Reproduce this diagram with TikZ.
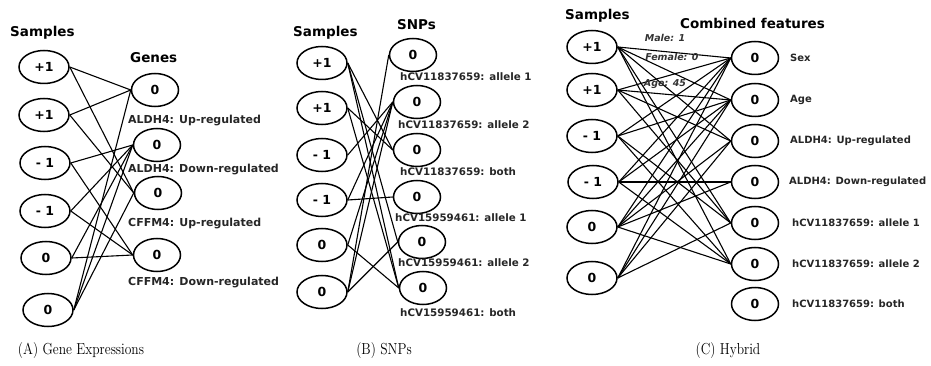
\documentclass[tikz,border=0pt]{standalone}
\usepackage{fontspec}
\newfontfamily\dv{DejaVu Sans}
\usetikzlibrary{shapes.geometric}
\begin{document}
\begin{tikzpicture}[x=1pt,y=-1pt,
  sbox/.style={ellipse,draw,line width=1.5pt,minimum width=50pt,minimum height=33pt,inner sep=0pt,font=\dv\bfseries\fontsize{12.5}{14}\selectfont},
  fbox/.style={sbox,minimum width=47pt},
  head/.style={anchor=west,font=\dv\bfseries\fontsize{13.5}{15}\selectfont,inner sep=0pt},
  laba/.style={anchor=west,font=\dv\bfseries\fontsize{11}{12}\selectfont,inner sep=0pt,text=black!85},
  labb/.style={anchor=west,font=\dv\bfseries\fontsize{10.3}{12}\selectfont,inner sep=0pt,text=black!85},
  labc/.style={anchor=west,font=\dv\bfseries\fontsize{10}{12}\selectfont,inner sep=0pt,text=black!85},
  elab/.style={font=\dv\bfseries\itshape\fontsize{9.5}{11}\selectfont,inner sep=0pt,text=black!80},
  captxt/.style={font=\fontsize{13.5}{16}\selectfont,inner sep=0pt,transform shape,yscale=1.18},
  conn/.style={line width=1.1pt}]
\useasboundingbox (0,0) rectangle (931,366);
% ---------- Panel A ----------
\node[head] (ha) at (10,33) {Samples};
\node[head] (hg) at (130,58) {Genes};
\node[sbox] (a1) at (44,67) {+1};
\node[sbox] (a2) at (44,115) {+1};
\node[sbox] (a3) at (45,163) {- 1};
\node[sbox] (a4) at (45,211) {- 1};
\node[sbox] (a5) at (46,258) {0};
\node[sbox] (a6) at (48,310) {0};
\node[fbox] (g1) at (155,90) {0};
\node[fbox] (g2) at (157,145) {0};
\node[fbox] (g3) at (158,193) {0};
\node[fbox] (g4) at (157,255) {0};
\node[laba] (lg1) at (128,121) {ALDH4: Up-regulated};
\node[laba] (lg2) at (128,170) {ALDH4: Down-regulated};
\node[laba] (lg3) at (128,224) {CFFM4: Up-regulated};
\node[laba] (lg4) at (128,283) {CFFM4: Down-regulated};
\foreach \s/\t in {a1/g1,a1/g3,a2/g1,a2/g3,a3/g2,a3/g4,a4/g2,a4/g4,a5/g2,a5/g4,a6/g1,a6/g2,a6/g3}
  \draw[conn] (\s.east) -- (\t.west);
% ---------- Panel B ----------
\node[head] (hb) at (293,33) {Samples};
\node[head] (hn) at (397,25) {SNPs};
\node[sbox] (b1) at (322,63) {+1};
\node[sbox] (b2) at (322,108) {+1};
\node[sbox] (b3) at (322,155) {- 1};
\node[sbox] (b4) at (322,200) {- 1};
\node[sbox] (b5) at (322,245) {0};
\node[sbox] (b6) at (322,292) {0};
\node[fbox] (n1) at (413,55) {0};
\node[fbox] (n2) at (417,102) {0};
\node[fbox] (n3) at (417,150) {0};
\node[fbox] (n4) at (417,197) {0};
\node[fbox] (n5) at (422,242) {0};
\node[fbox] (n6) at (423,288) {0};
\node[labb] (ln1) at (400,77) {hCV11837659: allele 1};
\node[labb] (ln2) at (398,125) {hCV11837659: allele 2};
\node[labb] (ln3) at (400,172) {hCV11837659: both};
\node[labb] (ln4) at (395,218) {hCV15959461: allele 1};
\node[labb] (ln5) at (398,263) {hCV15959461: allele 2};
\node[labb] (ln6) at (400,313) {hCV15959461: both};
\foreach \s/\t in {b1/n3,b1/n5,b1/n6,b2/n3,b2/n6,b3/n2,b4/n2,b4/n4,b5/n2,b5/n6,b6/n1,b6/n2,b6/n5}
  \draw[conn] (\s.east) -- (\t.west);
% ---------- Panel C ----------
\node[head] (hc) at (565,16) {Samples};
\node[head] (hf) at (680,23) {Combined features};
\node[sbox] (c1) at (592,47) {+1};
\node[sbox] (c2) at (592,90) {+1};
\node[sbox] (c3) at (592,136) {- 1};
\node[sbox] (c4) at (593,182) {- 1};
\node[sbox] (c5) at (592,227) {0};
\node[sbox] (c6) at (592,278) {0};
\node[fbox] (f1) at (755,58) {0};
\node[fbox] (f2) at (755,100) {0};
\node[fbox] (f3) at (755,141) {0};
\node[fbox] (f4) at (755,182) {0};
\node[fbox] (f5) at (755,223) {0};
\node[fbox] (f6) at (755,264) {0};
\node[fbox] (f7) at (755,304) {0};
\node[labc] (lf1) at (790,58) {Sex};
\node[labc] (lf2) at (790,100) {Age};
\node[labc] (lf3) at (790,141) {ALDH4: Up-regulated};
\node[labc] (lf4) at (789,182) {ALDH4: Down-regulated};
\node[labc] (lf5) at (792,223) {hCV11837659: allele 1};
\node[labc] (lf6) at (792,264) {hCV11837659: allele 2};
\node[labc] (lf7) at (792,304) {hCV11837659: both};
\foreach \s/\t in {c1/f1,c1/f2,c1/f3,c1/f5,c1/f6,c2/f1,c2/f2,c2/f3,c2/f5,c3/f1,c3/f2,c3/f5,c3/f6,c4/f1,c4/f2,c4/f4,c4/f6,c5/f1,c5/f2,c5/f3,c5/f4,c5/f6,c6/f1,c6/f2,c6/f3,c6/f5}
  \draw[conn] (\s.east) -- (\t.west);
\node[elab] (em) at (665,38) {Male: 1};
\node[elab] (ef) at (672,57) {Female: 0};
\node[elab] (ea) at (665,84) {Age: 45};
% ---------- Captions ----------
\node[captxt] (capa) at (81,351) {(A) Gene Expressions};
\node[captxt] (capb) at (384,351) {(B) SNPs};
\node[captxt] (capc) at (728,351) {(C) Hybrid};
\end{tikzpicture}
\end{document}
